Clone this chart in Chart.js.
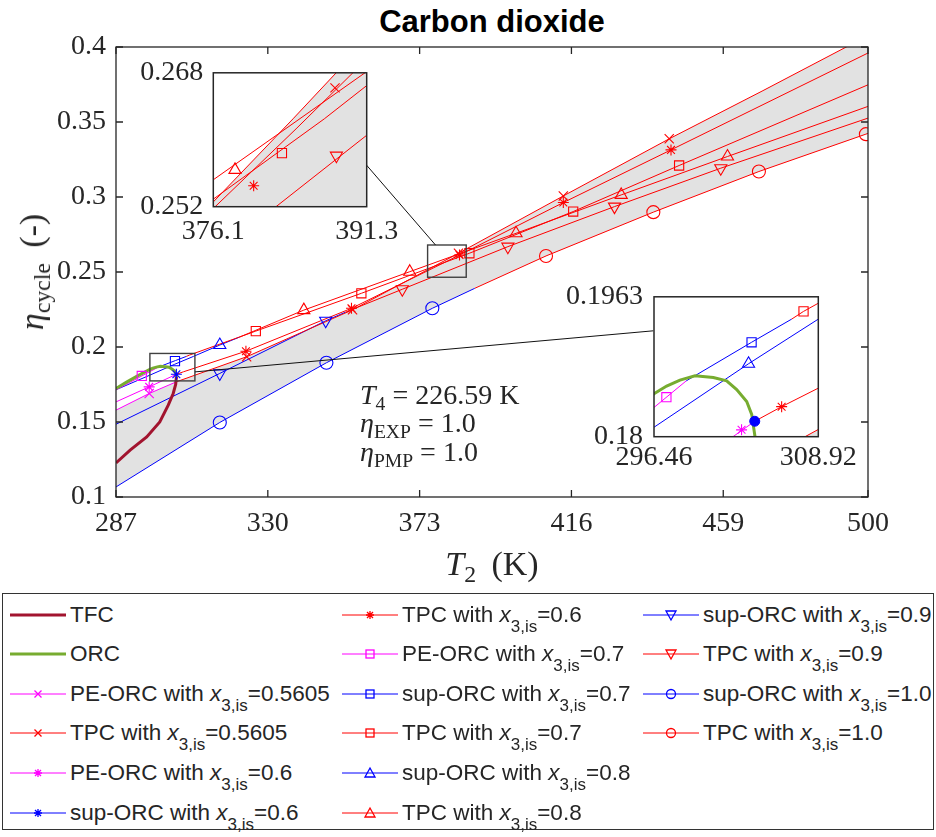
<!DOCTYPE html>
<html><head><meta charset="utf-8">
<title>Carbon dioxide</title>
<script src="https://cdn.jsdelivr.net/npm/chart.js@4.4.1/dist/chart.umd.min.js"></script>
<style>
html,body{margin:0;padding:0;background:#fff}
body{width:936px;height:837px;position:relative;overflow:hidden}
canvas{position:absolute}
#title{position:absolute;left:0;top:3px;width:984px;text-align:center;font:bold 31px "Liberation Sans",Arial,sans-serif;color:#000;line-height:38px}
.tex{position:absolute;font-family:"Liberation Serif","Times New Roman",serif;color:#262626;white-space:nowrap;line-height:32px;height:32px}
.tex sub{font-size:70%;vertical-align:baseline;position:relative;top:0.3em}
.tex .eq{margin:0 7px}
#legend{position:absolute;left:2px;top:593px;width:932px;height:237px;border:1.3px solid #333;box-sizing:border-box;font-family:"Liberation Sans",Arial,sans-serif;font-size:22.5px;color:#262626;background:#fff}
.li{position:absolute;height:30px;display:flex;align-items:center;white-space:nowrap}
.li svg{flex:none;margin-right:4px}
.li .s{font-size:17px;position:relative;top:10px}
</style></head><body>
<div id="title">Carbon dioxide</div>
<canvas id="main" width="936" height="590" style="left:0;top:0"></canvas>
<canvas id="in1" width="300" height="215" style="left:113px;top:46px"></canvas>
<canvas id="in2" width="320" height="210" style="left:554px;top:269px"></canvas>
<div class="tex" style="left:492px;top:564px;font-size:34px;transform:translate(-50%,-50%)"><i>T</i><sub>2</sub>&nbsp;&thinsp;(K)</div>
<div class="tex" style="left:32px;top:272px;font-size:34px;transform:translate(-50%,-50%) rotate(-90deg)"><i>η</i><sub>cycle</sub>&nbsp;&thinsp;(-)</div>
<div class="tex" style="left:360px;top:379px;font-size:28px"><i>T</i><sub>4</sub><span class="eq">=</span>226.59&nbsp;K</div>
<div class="tex" style="left:360px;top:407px;font-size:28px"><i>η</i><sub>EXP</sub><span class="eq">=</span>1.0</div>
<div class="tex" style="left:360px;top:436px;font-size:28px"><i>η</i><sub>PMP</sub><span class="eq">=</span>1.0</div>
<div id="legend"></div>
<script>
// ---------- axis ticks ----------
const xTicks = [287, 330, 373, 416, 459, 500];
const yTicks = [0.1, 0.15, 0.2, 0.25, 0.3, 0.35, 0.4];
const yTickLabels = ['0.1', '0.15', '0.2', '0.25', '0.3', '0.35', '0.4'];
const inset1X = [376.1, 391.3], inset1XLabels = ['376.1', '391.3'];
const inset1Y = [0.252, 0.268], inset1YLabels = ['0.252', '0.268'];
const inset2X = [296.46, 308.92], inset2XLabels = ['296.46', '308.92'];
const inset2Y = [0.18, 0.1963], inset2YLabels = ['0.18', '0.1963'];

// ---------- series (T2 [K], eta_cycle [-]) ----------
const tfc = [[287,0.1227],[291,0.1312],[295.7,0.1400],[299.4,0.1500],[301.8,0.1612],[303.2,0.1690],[303.9,0.1750],[304.1,0.1800]];
const orc = [[287,0.1724],[290,0.1766],[293,0.1806],[296.46,0.1850],[297.42,0.1859],[298.43,0.1866],[299.57,0.1871],[300.96,0.1869],[301.97,0.1865],[302.73,0.1855],[303.49,0.1841],[303.87,0.1826],[304.12,0.1800],[304.15,0.1790]];
const peOrc05605 = [[287,0.1579],[296.4,0.1690],[304.1,0.1768]];
const tpc05605 = [[304.1,0.1768],[324,0.1935],[354,0.2248],[384,0.2625],[413.7,0.3007],[443.7,0.3388],[470,0.3706],[500,0.4076]];
const peOrc06 = [[287,0.1634],[296.4,0.1734],[304.1,0.1818]];
const supOrc06 = [[304.1,0.1818]];
const tpc06 = [[304.1,0.1818],[306.14,0.1835],[323.8,0.1972],[353.7,0.2258],[384.3,0.2613],[413.7,0.2963],[444.2,0.3314],[500,0.3960]];
const peOrc07 = [[287,0.1714],[298.9,0.1865]];
const supOrc07 = [[298.9,0.1865],[303.86,0.1910],[306.9,0.1937]];
const tpc07 = [[306.9,0.1937],[307.8,0.1946],[326.6,0.2106],[356.5,0.2358],[387.1,0.2625],[416.5,0.2903],[446.5,0.3210],[500,0.3748]];
const supOrc08 = [[287,0.1715],[296.46,0.1811],[303.63,0.1885],[308.92,0.1937],[316.4,0.2013],[322,0.2066]];
const tpc08 = [[322,0.2066],[340.2,0.2246],[370.2,0.2502],[400.3,0.2758],[430.1,0.3014],[460.2,0.3270],[500,0.3604]];
const supOrc09 = [[287,0.1485],[316.4,0.1824],[346.4,0.2175],[352,0.2232]];
const tpc09 = [[352,0.2232],[368.1,0.2385],[398,0.2669],[428.2,0.2936],[458.3,0.3192],[500,0.3526]];
const supOrc10 = [[287,0.1067],[316.4,0.1497],[346.6,0.1895],[376.6,0.2258],[388.6,0.2391]];
const tpc10 = [[388.6,0.2391],[408.8,0.2607],[439.2,0.2899],[469.1,0.3170],[499.4,0.3419],[500,0.3424]];

// ---------- marker positions ----------
const mainMarkers = {
  peOrc05605: [[296.4,0.1690]],
  tpc05605: [[324,0.1935],[354,0.2248],[384,0.2625],[413.7,0.3007],[443.7,0.3388]],
  peOrc06: [[296.4,0.1734]],
  supOrc06: [[304.1,0.1818]],
  tpc06: [[323.8,0.1972],[353.7,0.2258],[384.3,0.2613],[413.7,0.2963],[444.2,0.3314]],
  peOrc07: [[294.3,0.1807]],
  supOrc07: [[303.7,0.1906]],
  tpc07: [[326.6,0.2106],[356.5,0.2358],[387.1,0.2625],[416.5,0.2903],[446.5,0.3210]],
  supOrc08: [[316.4,0.2013]],
  tpc08: [[340.2,0.2246],[370.2,0.2502],[400.3,0.2758],[430.1,0.3014],[460.2,0.3270]],
  supOrc09: [[316.4,0.1824],[346.4,0.2175]],
  tpc09: [[368.1,0.2385],[398,0.2669],[428.2,0.2936],[458.3,0.3192]],
  supOrc10: [[316.4,0.1497],[346.6,0.1895],[376.6,0.2258]],
  tpc10: [[408.8,0.2607],[439.2,0.2899],[469.1,0.3170],[499.4,0.3419]]
};
const inset1Markers = {
  tpc05605: [[388.16,0.2662]],
  tpc06: [[380.1,0.2545]],
  tpc07: [[382.9,0.2584]],
  tpc08: [[378.25,0.2564]],
  tpc09: [[388.3,0.2581]]
};
const inset2Markers = {
  peOrc06: [[303.1,0.1808]],
  tpc06: [[306.14,0.1835]],
  peOrc07: [[297.4,0.1846]],
  supOrc07: [[303.86,0.1910]],
  tpc07: [[307.8,0.1946]],
  supOrc08: [[303.63,0.1885]]
};
const inset2Dot = [[304.1,0.1818]];

// zoom rectangles on main axes [xmin,xmax,ymin,ymax] and connectors [x0,y0,x1,y1]
const zoomRects = [[375.26,386.2,0.2465,0.2680],[296.6,309.35,0.1774,0.1957]];
const connectors = [[377.5,0.2680,357.9,0.3214],[309.35,0.1834,439.2,0.2108]];

const RED='#ff0000', BLUE='#0000ff', MAG='#ff00ff', GREEN='#77ac30', TFCC='#a2142f', SHADE='#e2e2e2';
const series = [
  {key:'tfc', data:tfc, color:TFCC, width:3, name:'TFC'},
  {key:'orc', data:orc, color:GREEN, width:3, name:'ORC'},
  {key:'peOrc05605', data:peOrc05605, color:MAG, width:1, marker:'x', name:'PE-ORC with ', xv:'0.5605'},
  {key:'tpc05605', data:tpc05605, color:RED, width:1, marker:'x', name:'TPC with ', xv:'0.5605'},
  {key:'peOrc06', data:peOrc06, color:MAG, width:1, marker:'*', name:'PE-ORC with ', xv:'0.6'},
  {key:'supOrc06', data:supOrc06, color:BLUE, width:1, marker:'*', name:'sup-ORC with ', xv:'0.6'},
  {key:'tpc06', data:tpc06, color:RED, width:1, marker:'*', name:'TPC with ', xv:'0.6'},
  {key:'peOrc07', data:peOrc07, color:MAG, width:1, marker:'s', name:'PE-ORC with ', xv:'0.7'},
  {key:'supOrc07', data:supOrc07, color:BLUE, width:1, marker:'s', name:'sup-ORC with ', xv:'0.7'},
  {key:'tpc07', data:tpc07, color:RED, width:1, marker:'s', name:'TPC with ', xv:'0.7'},
  {key:'supOrc08', data:supOrc08, color:BLUE, width:1, marker:'^', name:'sup-ORC with ', xv:'0.8'},
  {key:'tpc08', data:tpc08, color:RED, width:1, marker:'^', name:'TPC with ', xv:'0.8'},
  {key:'supOrc09', data:supOrc09, color:BLUE, width:1, marker:'v', name:'sup-ORC with ', xv:'0.9'},
  {key:'tpc09', data:tpc09, color:RED, width:1, marker:'v', name:'TPC with ', xv:'0.9'},
  {key:'supOrc10', data:supOrc10, color:BLUE, width:1, marker:'o', name:'sup-ORC with ', xv:'1.0'},
  {key:'tpc10', data:tpc10, color:RED, width:1, marker:'o', name:'TPC with ', xv:'1.0'}
];
const shadeTop = peOrc05605.concat(tpc05605);
const shadeBottom = supOrc10.concat(tpc10);

const MK = {
  x:{style:'crossRot', r:6.5},
  '*':{style:'star', r:5.5},
  s:{style:'rect', r:6.5},
  '^':{style:'triangle', r:7},
  v:{style:'triangle', r:7, rot:180},
  o:{style:'circle', r:6.5}
};
const toPts = a => a.map(p => ({x:p[0], y:p[1]}));

function makeDatasets(markerSet, dot){
  const ds = [];
  if (dot) ds.push({data:toPts(dot), showLine:false, pointStyle:'circle', pointRadius:5, pointBackgroundColor:BLUE, pointBorderColor:BLUE, pointBorderWidth:1});
  series.forEach(s => {
    const m = markerSet[s.key];
    if (!m || !m.length) return;
    const st = MK[s.marker];
    ds.push({data:toPts(m), showLine:false, pointStyle:st.style, pointRadius:st.r, pointRotation:st.rot||0,
      pointBorderColor:s.color, pointBackgroundColor:'rgba(0,0,0,0)', pointBorderWidth:1.1});
  });
  series.forEach(s => {
    if (s.data.length < 2) return;
    ds.push({data:toPts(s.data), showLine:true, borderColor:s.color, borderWidth:s.width, pointRadius:0, fill:false, tension:0});
  });
  ds.push({data:toPts(shadeTop), showLine:true, borderWidth:0, borderColor:'rgba(0,0,0,0)', pointRadius:0, fill:'+1', backgroundColor:SHADE});
  ds.push({data:toPts(shadeBottom), showLine:true, borderWidth:0, borderColor:'rgba(0,0,0,0)', pointRadius:0, fill:false});
  return ds;
}

const SERIF = '"Liberation Serif","Times New Roman",serif';
const tickFont = {family:SERIF, size:28, lineHeight:1.2};
const AX = '#262626';

function scaleX(min, max, ticks, labels, pad, h){
  return {type:'linear', min, max, grid:{display:false, drawTicks:false}, border:{display:false},
    afterBuildTicks: s => { s.ticks = ticks.map(v => ({value:v})); },
    afterFit: s => { s.height = h; },
    ticks:{font:tickFont, color:AX, padding:pad, autoSkip:false, maxRotation:0, callback:(v,i) => labels[i]}};
}
function scaleY(min, max, ticks, labels, pad, w){
  return {type:'linear', min, max, grid:{display:false, drawTicks:false}, border:{display:false},
    afterBuildTicks: s => { s.ticks = ticks.map(v => ({value:v})); },
    afterFit: s => { s.width = w; },
    ticks:{font:tickFont, color:AX, padding:pad, autoSkip:false, callback:(v,i) => labels[i]}};
}

const mainDeco = {
  id:'mainDeco',
  afterDatasetsDraw(chart){
    const {ctx, chartArea:a, scales:{x, y}} = chart;
    ctx.save();
    ctx.strokeStyle = '#404040'; ctx.lineWidth = 1.4;
    zoomRects.forEach(r => {
      const x0 = x.getPixelForValue(r[0]), x1 = x.getPixelForValue(r[1]);
      const y0 = y.getPixelForValue(r[3]), y1 = y.getPixelForValue(r[2]);
      ctx.strokeRect(x0, y0, x1 - x0, y1 - y0);
    });
    ctx.strokeStyle = '#111'; ctx.lineWidth = 1;
    connectors.forEach(c => {
      ctx.beginPath();
      ctx.moveTo(x.getPixelForValue(c[0]), y.getPixelForValue(c[1]));
      ctx.lineTo(x.getPixelForValue(c[2]), y.getPixelForValue(c[3]));
      ctx.stroke();
    });
    ctx.strokeStyle = AX; ctx.lineWidth = 1.3;
    ctx.strokeRect(a.left, a.top, a.right - a.left, a.bottom - a.top);
    ctx.beginPath();
    xTicks.forEach(v => { const p = x.getPixelForValue(v);
      ctx.moveTo(p, a.bottom); ctx.lineTo(p, a.bottom - 7);
      ctx.moveTo(p, a.top); ctx.lineTo(p, a.top + 7); });
    yTicks.forEach(v => { const p = y.getPixelForValue(v);
      ctx.moveTo(a.left, p); ctx.lineTo(a.left + 7, p);
      ctx.moveTo(a.right, p); ctx.lineTo(a.right - 7, p); });
    ctx.stroke();
    ctx.restore();
  }
};
const insetDeco = {
  id:'insetDeco',
  beforeDraw(chart){
    const {ctx, chartArea:a} = chart;
    ctx.save(); ctx.fillStyle = '#fff';
    ctx.fillRect(a.left, a.top, a.right - a.left, a.bottom - a.top); ctx.restore();
  },
  afterDraw(chart){
    const {ctx, chartArea:a} = chart;
    ctx.save(); ctx.strokeStyle = AX; ctx.lineWidth = 1.5;
    ctx.strokeRect(a.left, a.top, a.right - a.left, a.bottom - a.top); ctx.restore();
  }
};

const common = {responsive:false, animation:false, events:[], devicePixelRatio:1};

new Chart(document.getElementById('main'), {
  type:'line',
  data:{datasets:makeDatasets(mainMarkers)},
  options:Object.assign({}, common, {
    layout:{padding:{left:0, right:68, top:47, bottom:0}},
    plugins:{legend:{display:false}, tooltip:{enabled:false}, title:{display:false}},
    scales:{x:scaleX(287, 500, xTicks, xTicks.map(String), 10, 93), y:scaleY(0.1, 0.4, yTicks, yTickLabels, 10, 116)}
  }),
  plugins:[mainDeco]
});

new Chart(document.getElementById('in1'), {
  type:'line',
  data:{datasets:makeDatasets(inset1Markers)},
  options:Object.assign({}, common, {
    layout:{padding:{left:0, right:46.3, top:20, bottom:0}},
    plugins:{legend:{display:false}, tooltip:{enabled:false}},
    scales:{x:scaleX(inset1X[0], inset1X[1], inset1X, inset1XLabels, 8, 54.3), y:scaleY(inset1Y[0], inset1Y[1], inset1Y, inset1YLabels, 10, 100.3)}
  }),
  plugins:[insetDeco]
});

new Chart(document.getElementById('in2'), {
  type:'line',
  data:{datasets:makeDatasets(inset2Markers, inset2Dot)},
  options:Object.assign({}, common, {
    layout:{padding:{left:0, right:55.7, top:20.3, bottom:0}},
    plugins:{legend:{display:false}, tooltip:{enabled:false}},
    scales:{x:scaleX(inset2X[0], inset2X[1], inset2X, inset2XLabels, 4, 42.3), y:scaleY(inset2Y[0], inset2Y[1], inset2Y, inset2YLabels, 11, 100)}
  }),
  plugins:[insetDeco]
});

// ---------- legend ----------
function sampleSVG(s){
  const c = s.color, cx = 28, cy = 10; let m = '';
  switch (s.marker){
    case 'x': m = `<path d="M${cx-3.5} ${cy-3.5}L${cx+3.5} ${cy+3.5}M${cx-3.5} ${cy+3.5}L${cx+3.5} ${cy-3.5}" stroke="${c}" stroke-width="1.3" fill="none"/>`; break;
    case '*': m = `<path d="M${cx-4} ${cy}L${cx+4} ${cy}M${cx} ${cy-4}L${cx} ${cy+4}M${cx-3} ${cy-3}L${cx+3} ${cy+3}M${cx-3} ${cy+3}L${cx+3} ${cy-3}" stroke="${c}" stroke-width="1.3" fill="none"/>`; break;
    case 's': m = `<rect x="${cx-4}" y="${cy-4}" width="8" height="8" stroke="${c}" stroke-width="1.3" fill="none"/>`; break;
    case '^': m = `<path d="M${cx} ${cy-5}L${cx+5} ${cy+4}L${cx-5} ${cy+4}Z" stroke="${c}" stroke-width="1.3" fill="none"/>`; break;
    case 'v': m = `<path d="M${cx} ${cy+5}L${cx+5} ${cy-4}L${cx-5} ${cy-4}Z" stroke="${c}" stroke-width="1.3" fill="none"/>`; break;
    case 'o': m = `<circle cx="${cx}" cy="${cy}" r="4.5" stroke="${c}" stroke-width="1.3" fill="none"/>`; break;
  }
  return `<svg width="56" height="20"><line x1="0" y1="10" x2="56" y2="10" stroke="${c}" stroke-width="${s.width}"/>${m}</svg>`;
}
const legendCols = [7, 339, 640];
const legendRows = [21, 60, 100, 139, 179, 219];
const perCol = [6, 6, 4];
const lg = document.getElementById('legend');
let k = 0;
perCol.forEach((n, ci) => {
  for (let r = 0; r < n; r++, k++){
    const s = series[k];
    const d = document.createElement('div');
    d.className = 'li';
    d.style.left = legendCols[ci] + 'px';
    d.style.top = (legendRows[r] - 15) + 'px';
    let txt = s.name;
    if (s.xv) txt += `<i>x</i><span class="s">3,is</span>=${s.xv}`;
    d.innerHTML = sampleSVG(s) + `<span>${txt}</span>`;
    lg.appendChild(d);
  }
});
</script>
</body></html>
